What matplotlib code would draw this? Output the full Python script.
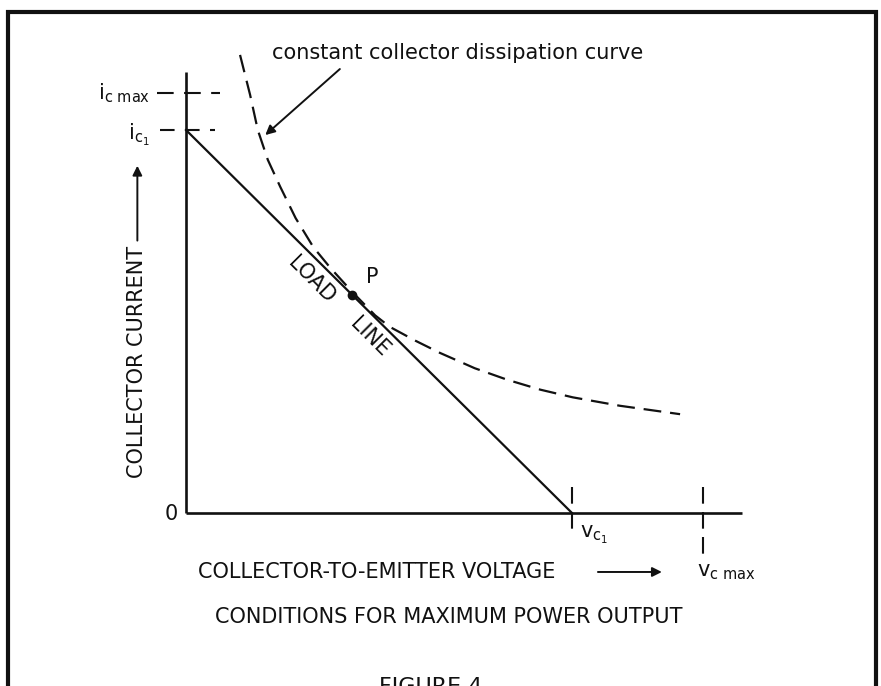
import matplotlib
matplotlib.use("Agg")
import matplotlib.pyplot as plt
from matplotlib.patches import Rectangle

# operating values (arbitrary units, origin at 0,0)
vc_1 = 5.0
vc_max = 6.70
ic_1 = 5.0
ic_max = 5.48
p_point = (2.15, 2.85)

# constant collector dissipation curve
vce_curve = [0.70, 0.83, 0.93, 1.06, 1.22, 1.42, 1.65, 1.87, 2.15, 2.45, 2.64,
             2.97, 3.29, 3.74, 4.16, 4.59, 5.01, 5.62, 6.40]
ic_curve = [5.98, 5.46, 5.00, 4.61, 4.26, 3.85, 3.47, 3.20, 2.89, 2.58, 2.43,
            2.25, 2.09, 1.89, 1.74, 1.61, 1.51, 1.40, 1.29]

ink = "#111111"
fs = 15

W, H = 881, 686
fig = plt.figure(figsize=(W / 100, H / 100), dpi=100)
# origin at pixel (186, 513), about 77 px per unit
ox, oy, sx, sy = 186, 513, 77.2, 76.6
x0, x1, y0, y1 = -2.2, 8.0, -2.4, 6.6
ax = fig.add_axes([(ox + x0 * sx) / W, (H - (oy - y0 * sy)) / H,
                   (x1 - x0) * sx / W, (y1 - y0) * sy / H])
ax.set_xlim(x0, x1)
ax.set_ylim(y0, y1)
ax.axis("off")

# axes
ax.plot([0, 0], [0, 5.76], color=ink, lw=1.9, solid_capstyle="butt")
ax.plot([0, 7.2], [0, 0], color=ink, lw=1.9, solid_capstyle="butt")

# dashed markers for ic and vc levels
ax.plot([-0.37, 0.44], [ic_max, ic_max], color=ink, lw=1.5, ls=(0, (8, 5)))
ax.plot([-0.34, 0.38], [ic_1, ic_1], color=ink, lw=1.5, ls=(0, (7, 5)))
ax.plot([vc_1, vc_1], [0.34, -0.29], color=ink, lw=1.5, ls=(0, (8, 4)))
ax.plot([vc_max, vc_max], [0.34, -0.61], color=ink, lw=1.5, ls=(0, (8, 4)))

# load line and dissipation curve
ax.plot([0, vc_1], [ic_1, 0], color=ink, lw=1.6)
ax.plot(vce_curve, ic_curve, color=ink, lw=1.6, ls=(0, (8, 4)))
ax.plot(*p_point, "o", color=ink, ms=6)

# labels
ax.text(-0.47, ic_max, r"$\mathregular{i_{c\ max}}$", fontsize=fs, ha="right", va="center", color=ink)
ax.text(-0.47, ic_1 - 0.07, r"$\mathregular{i_{c_1}}$", fontsize=fs, ha="right", va="center", color=ink)
ax.text(vc_1 + 0.1, -0.29, r"$\mathregular{v_{c_1}}$", fontsize=fs, ha="left", va="center", color=ink)
ax.text(vc_max - 0.08, -0.77, r"$\mathregular{v_{c\ max}}$", fontsize=fs, ha="left", va="center", color=ink)
ax.text(-0.19, -0.01, "0", fontsize=fs, ha="center", va="center", color=ink)
ax.text(p_point[0] + 0.26, p_point[1] + 0.23, "P", fontsize=fs, ha="center", va="center", color=ink)
ax.text(1.63, 3.04, "LOAD", fontsize=fs, rotation=-45, ha="center", va="center",
        rotation_mode="anchor", color=ink)
ax.text(2.38, 2.30, "LINE", fontsize=fs, rotation=-45, ha="center", va="center",
        rotation_mode="anchor", color=ink)

ax.text(1.11, 6.0, "constant collector dissipation curve", fontsize=fs, ha="left",
        va="center", color=ink)
ax.annotate("", xy=(1.0, 4.91), xytext=(2.02, 5.82),
            arrowprops=dict(arrowstyle="-|>", color=ink, lw=1.4, mutation_scale=14))

ax.text(-0.63, 1.97, "COLLECTOR CURRENT", fontsize=fs, rotation=90, ha="center",
        va="center", color=ink)
ax.annotate("", xy=(-0.63, 4.57), xytext=(-0.63, 3.52),
            arrowprops=dict(arrowstyle="-|>", color=ink, lw=1.4, mutation_scale=14))

ax.text(0.155, -0.77, "COLLECTOR-TO-EMITTER VOLTAGE", fontsize=fs, ha="left",
        va="center", color=ink)
ax.annotate("", xy=(6.2, -0.77), xytext=(5.30, -0.77),
            arrowprops=dict(arrowstyle="-|>", color=ink, lw=1.4, mutation_scale=14))

ax.text(3.40, -1.36, "CONDITIONS FOR MAXIMUM POWER OUTPUT", fontsize=fs, ha="center",
        va="center", color=ink)
ax.plot([1.31, 2.25], [-2.27, -2.27], color="#bbbbbb", lw=1, clip_on=False)
ax.text(3.17, -2.14, "FIGURE 4", fontsize=16, ha="center", va="top", color=ink)

# outer frame
fig.add_artist(Rectangle((8 / W, -0.1), 868 / W, 1.1 - 12 / H, transform=fig.transFigure,
                         fill=False, lw=3, edgecolor=ink))

fig.savefig("out.png", dpi=100)
